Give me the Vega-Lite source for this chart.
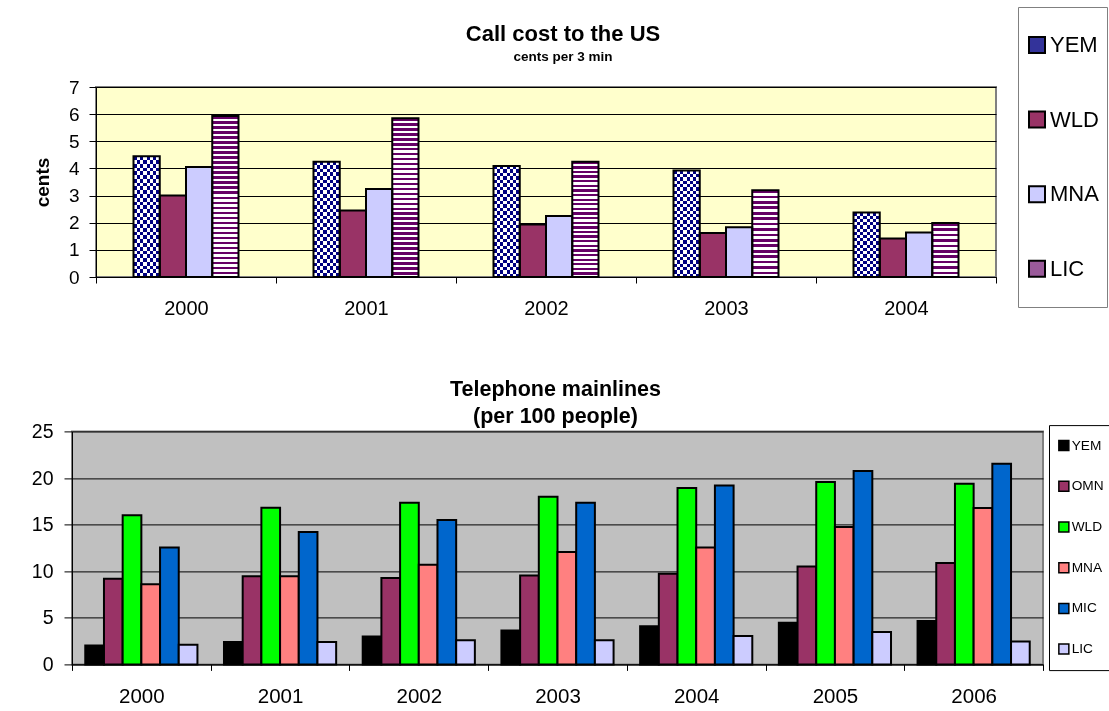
{
  "$schema": "https://vega.github.io/schema/vega-lite/v6.json",
  "padding": {"left": 30, "top": 6, "right": 0, "bottom": 0},
  "background": "white",
  "spacing": 59.4,
  "columns": 1,
  "align": "none",
  "datasets": {
    "cost": [
      {"year": "2000", "series": "YEM", "value": 4.45},
      {"year": "2000", "series": "WLD", "value": 3.0},
      {"year": "2000", "series": "MNA", "value": 4.05},
      {"year": "2000", "series": "LIC", "value": 5.93},
      {"year": "2001", "series": "YEM", "value": 4.25},
      {"year": "2001", "series": "WLD", "value": 2.45},
      {"year": "2001", "series": "MNA", "value": 3.24},
      {"year": "2001", "series": "LIC", "value": 5.85},
      {"year": "2002", "series": "YEM", "value": 4.09},
      {"year": "2002", "series": "WLD", "value": 1.93},
      {"year": "2002", "series": "MNA", "value": 2.25},
      {"year": "2002", "series": "LIC", "value": 4.25},
      {"year": "2003", "series": "YEM", "value": 3.92},
      {"year": "2003", "series": "WLD", "value": 1.62},
      {"year": "2003", "series": "MNA", "value": 1.83},
      {"year": "2003", "series": "LIC", "value": 3.2},
      {"year": "2004", "series": "YEM", "value": 2.38},
      {"year": "2004", "series": "WLD", "value": 1.42},
      {"year": "2004", "series": "MNA", "value": 1.64},
      {"year": "2004", "series": "LIC", "value": 1.99}
    ],
    "lines": [
      {"year": "2000", "series": "YEM", "value": 2.04},
      {"year": "2000", "series": "OMN", "value": 9.2},
      {"year": "2000", "series": "WLD", "value": 16.0},
      {"year": "2000", "series": "MNA", "value": 8.6},
      {"year": "2000", "series": "MIC", "value": 12.55},
      {"year": "2000", "series": "LIC", "value": 2.1},
      {"year": "2001", "series": "YEM", "value": 2.4},
      {"year": "2001", "series": "OMN", "value": 9.45},
      {"year": "2001", "series": "WLD", "value": 16.8},
      {"year": "2001", "series": "MNA", "value": 9.45},
      {"year": "2001", "series": "MIC", "value": 14.2},
      {"year": "2001", "series": "LIC", "value": 2.4},
      {"year": "2002", "series": "YEM", "value": 3.0},
      {"year": "2002", "series": "OMN", "value": 9.27},
      {"year": "2002", "series": "WLD", "value": 17.35},
      {"year": "2002", "series": "MNA", "value": 10.7},
      {"year": "2002", "series": "MIC", "value": 15.5},
      {"year": "2002", "series": "LIC", "value": 2.58},
      {"year": "2003", "series": "YEM", "value": 3.65},
      {"year": "2003", "series": "OMN", "value": 9.55},
      {"year": "2003", "series": "WLD", "value": 18.0},
      {"year": "2003", "series": "MNA", "value": 12.06},
      {"year": "2003", "series": "MIC", "value": 17.35},
      {"year": "2003", "series": "LIC", "value": 2.6},
      {"year": "2004", "series": "YEM", "value": 4.08},
      {"year": "2004", "series": "OMN", "value": 9.73},
      {"year": "2004", "series": "WLD", "value": 18.93},
      {"year": "2004", "series": "MNA", "value": 12.55},
      {"year": "2004", "series": "MIC", "value": 19.2},
      {"year": "2004", "series": "LIC", "value": 3.05},
      {"year": "2005", "series": "YEM", "value": 4.47},
      {"year": "2005", "series": "OMN", "value": 10.5},
      {"year": "2005", "series": "WLD", "value": 19.57},
      {"year": "2005", "series": "MNA", "value": 14.74},
      {"year": "2005", "series": "MIC", "value": 20.75},
      {"year": "2005", "series": "LIC", "value": 3.47},
      {"year": "2006", "series": "YEM", "value": 4.65},
      {"year": "2006", "series": "OMN", "value": 10.88},
      {"year": "2006", "series": "WLD", "value": 19.39},
      {"year": "2006", "series": "MNA", "value": 16.78},
      {"year": "2006", "series": "MIC", "value": 21.53},
      {"year": "2006", "series": "LIC", "value": 2.47}
    ]
  },
  "resolve": {"scale": {"fill": "independent", "x": "independent", "y": "independent", "xOffset": "independent"}, "legend": {"fill": "independent"}},
  "concat": [
    {
      "width": 924,
      "height": 190,
      "data": {"name": "cost"},
      "view": {"stroke": null},
      "title": {
        "text": "Call cost to the US",
        "subtitle": "cents per 3 min",
        "frame": "group",
        "anchor": "middle",
        "dx": 29,
        "fontSize": 22,
        "fontWeight": "bold",
        "color": "black",
        "subtitleFontSize": 13.5,
        "subtitleFontWeight": "bold",
        "subtitleColor": "black",
        "subtitlePadding": 4,
        "offset": -57.7
      },
      "layer": [
        {
          "transform": [{"filter": "datum.series === 'YEM' && datum.year === '2000'"}],
          "mark": {"type": "rect", "fill": "#FFFFCC", "stroke": "#808080", "strokeWidth": 2, "blend": "multiply"},
          "encoding": {
            "x": {"datum": "2000", "type": "ordinal", "bandPosition": 0,
              "axis": {"title": null, "labelAngle": 0, "labelAlign": "center", "labelBaseline": "top", "tickBand": "extent", "tickSize": 6, "labelPadding": 15, "labelFontSize": 20, "domainWidth": 1}},
            "x2": {"datum": "2004", "bandPosition": 1},
            "y": {"datum": 7, "type": "quantitative",
              "axis": {"title": "cents", "offset": -24, "values": [0, 1, 2, 3, 4, 5, 6, 7], "grid": true, "gridColor": "black", "gridWidth": 1, "gridOpacity": 1, "tickSize": 7, "labelPadding": 10, "labelFontSize": 19, "titleFontSize": 19, "titleFontWeight": "bold", "titleColor": "black", "titlePadding": 16}},
            "y2": {"datum": 0}
          }
        },
        {
          "encoding": {
            "x": {
              "field": "year", "type": "ordinal",
              "scale": {"paddingInner": 0, "paddingOuter": 0, "range": [24, 924]},
              "axis": {"title": null, "labelAngle": 0, "labelAlign": "center", "labelBaseline": "top", "tickBand": "extent", "tickSize": 6, "labelPadding": 15, "labelFontSize": 20, "domainWidth": 1}
            },
            "xOffset": {"field": "series", "type": "nominal", "scale": {"domain": ["_a", "YEM", "WLD", "MNA", "LIC", "_b"], "paddingInner": 0, "paddingOuter": 0.4286}},
            "y": {
              "field": "value", "type": "quantitative",
              "scale": {"domain": [0, 7], "nice": false},
              "axis": {"title": "cents", "offset": -24, "values": [0, 1, 2, 3, 4, 5, 6, 7], "grid": true, "gridColor": "black", "gridWidth": 1, "gridOpacity": 1, "tickSize": 7, "labelPadding": 10, "labelFontSize": 19, "titleFontSize": 19, "titleFontWeight": "bold", "titleColor": "black", "titlePadding": 16}
            }
          },
          "layer": [
            {
              "mark": {"type": "bar"},
              "encoding": {
                "fill": {
                  "field": "series", "type": "nominal",
                  "scale": {"domain": ["YEM", "WLD", "MNA", "LIC"], "range": ["#33339A", "#993366", "#CCCCFF", "#9A5A9A"]},
                  "legend": {
                    "title": null,
                    "orient": "none", "legendX": 946, "legendY": -80,
                    "symbolType": "square", "symbolSize": 256, "symbolStrokeColor": "black", "symbolStrokeWidth": 2, "symbolOpacity": 1,
                    "labelFontSize": 22, "labelColor": "black", "labelOffset": 2,
                    "clipHeight": 60, "rowPadding": 14.6, "padding": 8, "strokeColor": "#808080", "fillColor": "white"
                  }
                }
              }
            },
            {
              "transform": [{"filter": "datum.series === 'LIC'"}],
              "mark": {"type": "bar"},
              "encoding": {
                "fill": {
                  "condition": [
                    {"test": "datum.year === '2000' || datum.year === '2001'", "value": {"gradient": "linear", "x1": 0, "y1": 0, "x2": 0, "y2": 1, "stops": [{"offset":0.015625,"color":"#606"},{"offset":0.015625,"color":"#fff"},{"offset":0.03125,"color":"#fff"},{"offset":0.03125,"color":"#606"},{"offset":0.046875,"color":"#606"},{"offset":0.046875,"color":"#fff"},{"offset":0.0625,"color":"#fff"},{"offset":0.0625,"color":"#606"},{"offset":0.078125,"color":"#606"},{"offset":0.078125,"color":"#fff"},{"offset":0.09375,"color":"#fff"},{"offset":0.09375,"color":"#606"},{"offset":0.109375,"color":"#606"},{"offset":0.109375,"color":"#fff"},{"offset":0.125,"color":"#fff"},{"offset":0.125,"color":"#606"},{"offset":0.140625,"color":"#606"},{"offset":0.140625,"color":"#fff"},{"offset":0.15625,"color":"#fff"},{"offset":0.15625,"color":"#606"},{"offset":0.171875,"color":"#606"},{"offset":0.171875,"color":"#fff"},{"offset":0.1875,"color":"#fff"},{"offset":0.1875,"color":"#606"},{"offset":0.203125,"color":"#606"},{"offset":0.203125,"color":"#fff"},{"offset":0.21875,"color":"#fff"},{"offset":0.21875,"color":"#606"},{"offset":0.234375,"color":"#606"},{"offset":0.234375,"color":"#fff"},{"offset":0.25,"color":"#fff"},{"offset":0.25,"color":"#606"},{"offset":0.265625,"color":"#606"},{"offset":0.265625,"color":"#fff"},{"offset":0.28125,"color":"#fff"},{"offset":0.28125,"color":"#606"},{"offset":0.296875,"color":"#606"},{"offset":0.296875,"color":"#fff"},{"offset":0.3125,"color":"#fff"},{"offset":0.3125,"color":"#606"},{"offset":0.328125,"color":"#606"},{"offset":0.328125,"color":"#fff"},{"offset":0.34375,"color":"#fff"},{"offset":0.34375,"color":"#606"},{"offset":0.359375,"color":"#606"},{"offset":0.359375,"color":"#fff"},{"offset":0.375,"color":"#fff"},{"offset":0.375,"color":"#606"},{"offset":0.390625,"color":"#606"},{"offset":0.390625,"color":"#fff"},{"offset":0.40625,"color":"#fff"},{"offset":0.40625,"color":"#606"},{"offset":0.421875,"color":"#606"},{"offset":0.421875,"color":"#fff"},{"offset":0.4375,"color":"#fff"},{"offset":0.4375,"color":"#606"},{"offset":0.453125,"color":"#606"},{"offset":0.453125,"color":"#fff"},{"offset":0.46875,"color":"#fff"},{"offset":0.46875,"color":"#606"},{"offset":0.484375,"color":"#606"},{"offset":0.484375,"color":"#fff"},{"offset":0.5,"color":"#fff"},{"offset":0.5,"color":"#606"},{"offset":0.515625,"color":"#606"},{"offset":0.515625,"color":"#fff"},{"offset":0.53125,"color":"#fff"},{"offset":0.53125,"color":"#606"},{"offset":0.546875,"color":"#606"},{"offset":0.546875,"color":"#fff"},{"offset":0.5625,"color":"#fff"},{"offset":0.5625,"color":"#606"},{"offset":0.578125,"color":"#606"},{"offset":0.578125,"color":"#fff"},{"offset":0.59375,"color":"#fff"},{"offset":0.59375,"color":"#606"},{"offset":0.609375,"color":"#606"},{"offset":0.609375,"color":"#fff"},{"offset":0.625,"color":"#fff"},{"offset":0.625,"color":"#606"},{"offset":0.640625,"color":"#606"},{"offset":0.640625,"color":"#fff"},{"offset":0.65625,"color":"#fff"},{"offset":0.65625,"color":"#606"},{"offset":0.671875,"color":"#606"},{"offset":0.671875,"color":"#fff"},{"offset":0.6875,"color":"#fff"},{"offset":0.6875,"color":"#606"},{"offset":0.703125,"color":"#606"},{"offset":0.703125,"color":"#fff"},{"offset":0.71875,"color":"#fff"},{"offset":0.71875,"color":"#606"},{"offset":0.734375,"color":"#606"},{"offset":0.734375,"color":"#fff"},{"offset":0.75,"color":"#fff"},{"offset":0.75,"color":"#606"},{"offset":0.765625,"color":"#606"},{"offset":0.765625,"color":"#fff"},{"offset":0.78125,"color":"#fff"},{"offset":0.78125,"color":"#606"},{"offset":0.796875,"color":"#606"},{"offset":0.796875,"color":"#fff"},{"offset":0.8125,"color":"#fff"},{"offset":0.8125,"color":"#606"},{"offset":0.828125,"color":"#606"},{"offset":0.828125,"color":"#fff"},{"offset":0.84375,"color":"#fff"},{"offset":0.84375,"color":"#606"},{"offset":0.859375,"color":"#606"},{"offset":0.859375,"color":"#fff"},{"offset":0.875,"color":"#fff"},{"offset":0.875,"color":"#606"},{"offset":0.890625,"color":"#606"},{"offset":0.890625,"color":"#fff"},{"offset":0.90625,"color":"#fff"},{"offset":0.90625,"color":"#606"},{"offset":0.921875,"color":"#606"},{"offset":0.921875,"color":"#fff"},{"offset":0.9375,"color":"#fff"},{"offset":0.9375,"color":"#606"},{"offset":0.953125,"color":"#606"},{"offset":0.953125,"color":"#fff"},{"offset":0.96875,"color":"#fff"},{"offset":0.96875,"color":"#606"},{"offset":0.984375,"color":"#606"},{"offset":0.984375,"color":"#fff"}]}},
                    {"test": "datum.year === '2002'", "value": {"gradient": "linear", "x1": 0, "y1": 0, "x2": 0, "y2": 1, "stops": [{"offset":0.02,"color":"#606"},{"offset":0.02,"color":"#fff"},{"offset":0.04,"color":"#fff"},{"offset":0.04,"color":"#606"},{"offset":0.06,"color":"#606"},{"offset":0.06,"color":"#fff"},{"offset":0.08,"color":"#fff"},{"offset":0.08,"color":"#606"},{"offset":0.1,"color":"#606"},{"offset":0.1,"color":"#fff"},{"offset":0.12,"color":"#fff"},{"offset":0.12,"color":"#606"},{"offset":0.14,"color":"#606"},{"offset":0.14,"color":"#fff"},{"offset":0.16,"color":"#fff"},{"offset":0.16,"color":"#606"},{"offset":0.18,"color":"#606"},{"offset":0.18,"color":"#fff"},{"offset":0.2,"color":"#fff"},{"offset":0.2,"color":"#606"},{"offset":0.22,"color":"#606"},{"offset":0.22,"color":"#fff"},{"offset":0.24,"color":"#fff"},{"offset":0.24,"color":"#606"},{"offset":0.26,"color":"#606"},{"offset":0.26,"color":"#fff"},{"offset":0.28,"color":"#fff"},{"offset":0.28,"color":"#606"},{"offset":0.3,"color":"#606"},{"offset":0.3,"color":"#fff"},{"offset":0.32,"color":"#fff"},{"offset":0.32,"color":"#606"},{"offset":0.34,"color":"#606"},{"offset":0.34,"color":"#fff"},{"offset":0.36,"color":"#fff"},{"offset":0.36,"color":"#606"},{"offset":0.38,"color":"#606"},{"offset":0.38,"color":"#fff"},{"offset":0.4,"color":"#fff"},{"offset":0.4,"color":"#606"},{"offset":0.42,"color":"#606"},{"offset":0.42,"color":"#fff"},{"offset":0.44,"color":"#fff"},{"offset":0.44,"color":"#606"},{"offset":0.46,"color":"#606"},{"offset":0.46,"color":"#fff"},{"offset":0.48,"color":"#fff"},{"offset":0.48,"color":"#606"},{"offset":0.5,"color":"#606"},{"offset":0.5,"color":"#fff"},{"offset":0.52,"color":"#fff"},{"offset":0.52,"color":"#606"},{"offset":0.54,"color":"#606"},{"offset":0.54,"color":"#fff"},{"offset":0.56,"color":"#fff"},{"offset":0.56,"color":"#606"},{"offset":0.58,"color":"#606"},{"offset":0.58,"color":"#fff"},{"offset":0.6,"color":"#fff"},{"offset":0.6,"color":"#606"},{"offset":0.62,"color":"#606"},{"offset":0.62,"color":"#fff"},{"offset":0.64,"color":"#fff"},{"offset":0.64,"color":"#606"},{"offset":0.66,"color":"#606"},{"offset":0.66,"color":"#fff"},{"offset":0.68,"color":"#fff"},{"offset":0.68,"color":"#606"},{"offset":0.7,"color":"#606"},{"offset":0.7,"color":"#fff"},{"offset":0.72,"color":"#fff"},{"offset":0.72,"color":"#606"},{"offset":0.74,"color":"#606"},{"offset":0.74,"color":"#fff"},{"offset":0.76,"color":"#fff"},{"offset":0.76,"color":"#606"},{"offset":0.78,"color":"#606"},{"offset":0.78,"color":"#fff"},{"offset":0.8,"color":"#fff"},{"offset":0.8,"color":"#606"},{"offset":0.82,"color":"#606"},{"offset":0.82,"color":"#fff"},{"offset":0.84,"color":"#fff"},{"offset":0.84,"color":"#606"},{"offset":0.86,"color":"#606"},{"offset":0.86,"color":"#fff"},{"offset":0.88,"color":"#fff"},{"offset":0.88,"color":"#606"},{"offset":0.9,"color":"#606"},{"offset":0.9,"color":"#fff"},{"offset":0.92,"color":"#fff"},{"offset":0.92,"color":"#606"},{"offset":0.94,"color":"#606"},{"offset":0.94,"color":"#fff"},{"offset":0.96,"color":"#fff"},{"offset":0.96,"color":"#606"},{"offset":0.98,"color":"#606"},{"offset":0.98,"color":"#fff"}]}},
                    {"test": "datum.year === '2003'", "value": {"gradient": "linear", "x1": 0, "y1": 0, "x2": 0, "y2": 1, "stops": [{"offset":0.03125,"color":"#606"},{"offset":0.03125,"color":"#fff"},{"offset":0.0625,"color":"#fff"},{"offset":0.0625,"color":"#606"},{"offset":0.09375,"color":"#606"},{"offset":0.09375,"color":"#fff"},{"offset":0.125,"color":"#fff"},{"offset":0.125,"color":"#606"},{"offset":0.15625,"color":"#606"},{"offset":0.15625,"color":"#fff"},{"offset":0.1875,"color":"#fff"},{"offset":0.1875,"color":"#606"},{"offset":0.21875,"color":"#606"},{"offset":0.21875,"color":"#fff"},{"offset":0.25,"color":"#fff"},{"offset":0.25,"color":"#606"},{"offset":0.28125,"color":"#606"},{"offset":0.28125,"color":"#fff"},{"offset":0.3125,"color":"#fff"},{"offset":0.3125,"color":"#606"},{"offset":0.34375,"color":"#606"},{"offset":0.34375,"color":"#fff"},{"offset":0.375,"color":"#fff"},{"offset":0.375,"color":"#606"},{"offset":0.40625,"color":"#606"},{"offset":0.40625,"color":"#fff"},{"offset":0.4375,"color":"#fff"},{"offset":0.4375,"color":"#606"},{"offset":0.46875,"color":"#606"},{"offset":0.46875,"color":"#fff"},{"offset":0.5,"color":"#fff"},{"offset":0.5,"color":"#606"},{"offset":0.53125,"color":"#606"},{"offset":0.53125,"color":"#fff"},{"offset":0.5625,"color":"#fff"},{"offset":0.5625,"color":"#606"},{"offset":0.59375,"color":"#606"},{"offset":0.59375,"color":"#fff"},{"offset":0.625,"color":"#fff"},{"offset":0.625,"color":"#606"},{"offset":0.65625,"color":"#606"},{"offset":0.65625,"color":"#fff"},{"offset":0.6875,"color":"#fff"},{"offset":0.6875,"color":"#606"},{"offset":0.71875,"color":"#606"},{"offset":0.71875,"color":"#fff"},{"offset":0.75,"color":"#fff"},{"offset":0.75,"color":"#606"},{"offset":0.78125,"color":"#606"},{"offset":0.78125,"color":"#fff"},{"offset":0.8125,"color":"#fff"},{"offset":0.8125,"color":"#606"},{"offset":0.84375,"color":"#606"},{"offset":0.84375,"color":"#fff"},{"offset":0.875,"color":"#fff"},{"offset":0.875,"color":"#606"},{"offset":0.90625,"color":"#606"},{"offset":0.90625,"color":"#fff"},{"offset":0.9375,"color":"#fff"},{"offset":0.9375,"color":"#606"},{"offset":0.96875,"color":"#606"},{"offset":0.96875,"color":"#fff"}]}}
                  ],
                  "value": {"gradient": "linear", "x1": 0, "y1": 0, "x2": 0, "y2": 1, "stops": [{"offset":0.05,"color":"#606"},{"offset":0.05,"color":"#fff"},{"offset":0.1,"color":"#fff"},{"offset":0.1,"color":"#606"},{"offset":0.15,"color":"#606"},{"offset":0.15,"color":"#fff"},{"offset":0.2,"color":"#fff"},{"offset":0.2,"color":"#606"},{"offset":0.25,"color":"#606"},{"offset":0.25,"color":"#fff"},{"offset":0.3,"color":"#fff"},{"offset":0.3,"color":"#606"},{"offset":0.35,"color":"#606"},{"offset":0.35,"color":"#fff"},{"offset":0.4,"color":"#fff"},{"offset":0.4,"color":"#606"},{"offset":0.45,"color":"#606"},{"offset":0.45,"color":"#fff"},{"offset":0.5,"color":"#fff"},{"offset":0.5,"color":"#606"},{"offset":0.55,"color":"#606"},{"offset":0.55,"color":"#fff"},{"offset":0.6,"color":"#fff"},{"offset":0.6,"color":"#606"},{"offset":0.65,"color":"#606"},{"offset":0.65,"color":"#fff"},{"offset":0.7,"color":"#fff"},{"offset":0.7,"color":"#606"},{"offset":0.75,"color":"#606"},{"offset":0.75,"color":"#fff"},{"offset":0.8,"color":"#fff"},{"offset":0.8,"color":"#606"},{"offset":0.85,"color":"#606"},{"offset":0.85,"color":"#fff"},{"offset":0.9,"color":"#fff"},{"offset":0.9,"color":"#606"},{"offset":0.95,"color":"#606"},{"offset":0.95,"color":"#fff"}]}
                }
              }
            },
            {
              "transform": [{"filter": "datum.series === 'YEM'"}],
              "mark": {"type": "bar"},
              "encoding": {
                "fill": {
                  "condition": [
                    {"test": "datum.year === '2004'", "value": {"gradient": "linear", "x1": 0, "y1": 0, "x2": 0, "y2": 1, "stops": [{"offset":0.05,"color":"#000"},{"offset":0.05,"color":"#fff"},{"offset":0.1,"color":"#fff"},{"offset":0.1,"color":"#000"},{"offset":0.15,"color":"#000"},{"offset":0.15,"color":"#fff"},{"offset":0.2,"color":"#fff"},{"offset":0.2,"color":"#000"},{"offset":0.25,"color":"#000"},{"offset":0.25,"color":"#fff"},{"offset":0.3,"color":"#fff"},{"offset":0.3,"color":"#000"},{"offset":0.35,"color":"#000"},{"offset":0.35,"color":"#fff"},{"offset":0.4,"color":"#fff"},{"offset":0.4,"color":"#000"},{"offset":0.45,"color":"#000"},{"offset":0.45,"color":"#fff"},{"offset":0.5,"color":"#fff"},{"offset":0.5,"color":"#000"},{"offset":0.55,"color":"#000"},{"offset":0.55,"color":"#fff"},{"offset":0.6,"color":"#fff"},{"offset":0.6,"color":"#000"},{"offset":0.65,"color":"#000"},{"offset":0.65,"color":"#fff"},{"offset":0.7,"color":"#fff"},{"offset":0.7,"color":"#000"},{"offset":0.75,"color":"#000"},{"offset":0.75,"color":"#fff"},{"offset":0.8,"color":"#fff"},{"offset":0.8,"color":"#000"},{"offset":0.85,"color":"#000"},{"offset":0.85,"color":"#fff"},{"offset":0.9,"color":"#fff"},{"offset":0.9,"color":"#000"},{"offset":0.95,"color":"#000"},{"offset":0.95,"color":"#fff"}]}}
                  ],
                  "value": {"gradient": "linear", "x1": 0, "y1": 0, "x2": 0, "y2": 1, "stops": [{"offset":0.03125,"color":"#000"},{"offset":0.03125,"color":"#fff"},{"offset":0.0625,"color":"#fff"},{"offset":0.0625,"color":"#000"},{"offset":0.09375,"color":"#000"},{"offset":0.09375,"color":"#fff"},{"offset":0.125,"color":"#fff"},{"offset":0.125,"color":"#000"},{"offset":0.15625,"color":"#000"},{"offset":0.15625,"color":"#fff"},{"offset":0.1875,"color":"#fff"},{"offset":0.1875,"color":"#000"},{"offset":0.21875,"color":"#000"},{"offset":0.21875,"color":"#fff"},{"offset":0.25,"color":"#fff"},{"offset":0.25,"color":"#000"},{"offset":0.28125,"color":"#000"},{"offset":0.28125,"color":"#fff"},{"offset":0.3125,"color":"#fff"},{"offset":0.3125,"color":"#000"},{"offset":0.34375,"color":"#000"},{"offset":0.34375,"color":"#fff"},{"offset":0.375,"color":"#fff"},{"offset":0.375,"color":"#000"},{"offset":0.40625,"color":"#000"},{"offset":0.40625,"color":"#fff"},{"offset":0.4375,"color":"#fff"},{"offset":0.4375,"color":"#000"},{"offset":0.46875,"color":"#000"},{"offset":0.46875,"color":"#fff"},{"offset":0.5,"color":"#fff"},{"offset":0.5,"color":"#000"},{"offset":0.53125,"color":"#000"},{"offset":0.53125,"color":"#fff"},{"offset":0.5625,"color":"#fff"},{"offset":0.5625,"color":"#000"},{"offset":0.59375,"color":"#000"},{"offset":0.59375,"color":"#fff"},{"offset":0.625,"color":"#fff"},{"offset":0.625,"color":"#000"},{"offset":0.65625,"color":"#000"},{"offset":0.65625,"color":"#fff"},{"offset":0.6875,"color":"#fff"},{"offset":0.6875,"color":"#000"},{"offset":0.71875,"color":"#000"},{"offset":0.71875,"color":"#fff"},{"offset":0.75,"color":"#fff"},{"offset":0.75,"color":"#000"},{"offset":0.78125,"color":"#000"},{"offset":0.78125,"color":"#fff"},{"offset":0.8125,"color":"#fff"},{"offset":0.8125,"color":"#000"},{"offset":0.84375,"color":"#000"},{"offset":0.84375,"color":"#fff"},{"offset":0.875,"color":"#fff"},{"offset":0.875,"color":"#000"},{"offset":0.90625,"color":"#000"},{"offset":0.90625,"color":"#fff"},{"offset":0.9375,"color":"#fff"},{"offset":0.9375,"color":"#000"},{"offset":0.96875,"color":"#000"},{"offset":0.96875,"color":"#fff"}]}
                }
              }
            },
            {
              "transform": [{"filter": "datum.series === 'YEM'"}],
              "mark": {"type": "bar", "blend": "difference", "fill": {"gradient": "linear", "x1": 0, "y1": 0, "x2": 1, "y2": 0, "stops": [{"offset":0.125,"color":"#000"},{"offset":0.125,"color":"#fff"},{"offset":0.25,"color":"#fff"},{"offset":0.25,"color":"#000"},{"offset":0.375,"color":"#000"},{"offset":0.375,"color":"#fff"},{"offset":0.5,"color":"#fff"},{"offset":0.5,"color":"#000"},{"offset":0.625,"color":"#000"},{"offset":0.625,"color":"#fff"},{"offset":0.75,"color":"#fff"},{"offset":0.75,"color":"#000"},{"offset":0.875,"color":"#000"},{"offset":0.875,"color":"#fff"}]}}
            },
            {
              "transform": [{"filter": "datum.series === 'YEM'"}],
              "mark": {"type": "bar", "blend": "screen", "fill": "#000080"}
            },
            {
              "mark": {"type": "bar", "fill": "transparent", "stroke": "black", "strokeWidth": 2}
            }
          ]
        }
      ]
    },
    {
      "width": 971,
      "height": 233,
      "data": {"name": "lines"},
      "view": {"fill": "#C0C0C0", "stroke": "#808080", "strokeWidth": 2},
      "title": {
        "text": ["Telephone mainlines", "(per 100 people)"],
        "frame": "group",
        "anchor": "middle",
        "dx": -2,
        "fontSize": 21.5,
        "lineHeight": 27,
        "fontWeight": "bold",
        "color": "black",
        "offset": -6.4
      },
      "mark": {"type": "bar", "stroke": "black", "strokeWidth": 2},
      "encoding": {
        "x": {
          "field": "year", "type": "ordinal",
          "scale": {"paddingInner": 0, "paddingOuter": 0},
          "axis": {"title": null, "labelAngle": 0, "tickBand": "extent", "tickSize": 6, "labelPadding": 16, "labelFontSize": 20.5, "domainWidth": 1}
        },
        "xOffset": {"field": "series", "type": "nominal", "sort": ["YEM", "OMN", "WLD", "MNA", "MIC", "LIC"], "scale": {"paddingInner": 0, "paddingOuter": 0.71}},
        "y": {
          "field": "value", "type": "quantitative",
          "scale": {"domain": [0, 25], "nice": false},
          "axis": {"title": null, "values": [0, 5, 10, 15, 20, 25], "grid": true, "gridColor": "black", "gridWidth": 1, "gridOpacity": 1, "tickSize": 8, "labelPadding": 11, "labelFontSize": 19.5}
        },
        "fill": {
          "field": "series", "type": "nominal",
          "scale": {"domain": ["YEM", "OMN", "WLD", "MNA", "MIC", "LIC"], "range": ["#000000", "#993366", "#00FF00", "#FF8080", "#0066CC", "#CCCCFF"]},
          "legend": {
            "title": null,
            "orient": "none", "legendX": 977, "legendY": -6.3,
            "symbolType": "square", "symbolSize": 100, "symbolStrokeColor": "black", "symbolStrokeWidth": 1.5, "symbolOpacity": 1,
            "labelFontSize": 13.7, "labelColor": "black", "labelOffset": 1,
            "clipHeight": 25, "rowPadding": 15.7, "padding": 8, "strokeColor": "black", "fillColor": "white"
          }
        }
      }
    }
  ],
  "config": {
    "font": "Liberation Sans",
    "axis": {"labelColor": "black", "tickColor": "black", "domainColor": "black", "labelFont": "Liberation Sans", "titleFont": "Liberation Sans", "tickWidth": 1},
    "legend": {"labelFont": "Liberation Sans", "titleFont": "Liberation Sans"},
    "title": {"font": "Liberation Sans", "subtitleFont": "Liberation Sans"}
  }
}
